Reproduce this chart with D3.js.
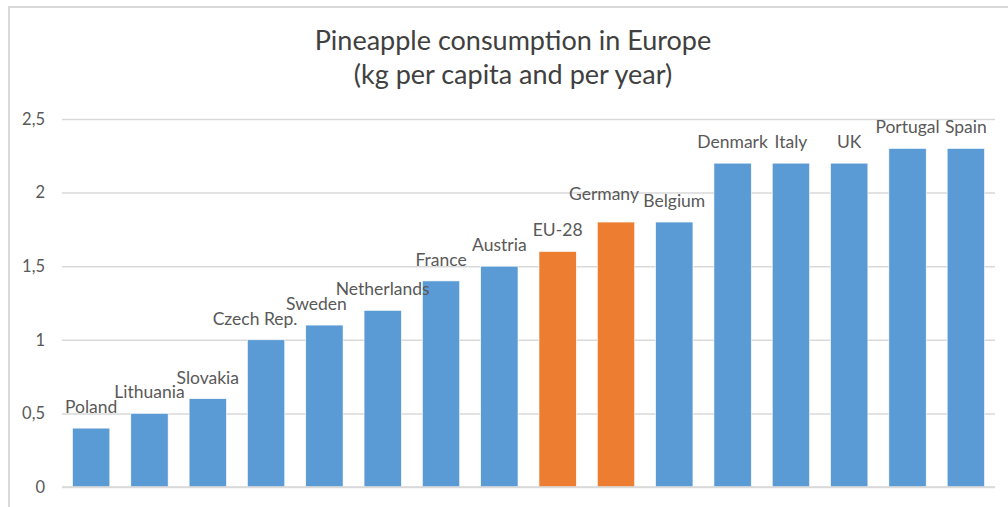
<!DOCTYPE html>
<html><head><meta charset="utf-8">
<script src="https://cdn.jsdelivr.net/npm/d3@7"></script>
<style>body{margin:0;background:#fff;} svg{display:block;font-family:Lato,"Open Sans",sans-serif;}</style>
</head><body>
<svg id="c" width="1008" height="507"></svg>
<script>
const categories = ["Poland","Lithuania","Slovakia","Czech Rep.","Sweden","Netherlands","France","Austria","EU-28","Germany","Belgium","Denmark","Italy","UK","Portugal","Spain"];
const values = [0.4,0.5,0.6,1.0,1.1,1.2,1.4,1.5,1.6,1.8,1.8,2.2,2.2,2.2,2.3,2.3];
const highlighted = ["EU-28","Germany"];
const yTicks = [0,0.5,1,1.5,2,2.5];
const titleLines = ["Pineapple consumption in Europe","(kg per capita and per year)"];

const svg = d3.select("#c");
svg.append("path").attr("d","M9,507 V7 H1008").attr("fill","none").attr("stroke","#d9d9d9").attr("stroke-width",2);

const x = d3.scaleBand().domain(categories).range([62,995]).paddingInner(0.36).paddingOuter(0.18);
const y = d3.scaleLinear().domain([0,2.5]).range([487,119]);

const fmt = d => String(d).replace(".", ",");
const yAxis = svg.append("g").attr("transform","translate(62,0)")
  .call(d3.axisLeft(y).tickValues(yTicks).tickSize(-933).tickFormat(fmt).tickPadding(17));
yAxis.select(".domain").remove();
yAxis.selectAll(".tick line").attr("stroke","#d9d9d9").attr("stroke-width",1.5);
yAxis.selectAll(".tick text").attr("fill","#595959").attr("font-size",16.5).attr("font-family","Lato");

svg.append("g").selectAll("rect").data(categories).join("rect")
  .attr("x", d => x(d)).attr("width", x.bandwidth())
  .attr("y", (d,i) => y(values[i])).attr("height", (d,i) => y(0) - y(values[i]))
  .attr("fill", d => highlighted.includes(d) ? "#ed7d31" : "#5b9bd5")
  .attr("stroke","#fff").attr("stroke-width",0.6);

svg.append("line").attr("x1",62).attr("x2",995).attr("y1",y(0)).attr("y2",y(0)).attr("stroke","#d9d9d9").attr("stroke-width",1.5);

// small label shifts to avoid overlaps, as in the original
const nudge = {"Czech Rep.":[-11,0],"Sweden":[-8,0],"Germany":[-12,-7]};
svg.append("g").selectAll("text").data(categories).join("text")
  .attr("x", d => x(d) + x.bandwidth()/2 + (nudge[d]?nudge[d][0]:0))
  .attr("y", (d,i) => y(values[i]) - 15 + (nudge[d]?nudge[d][1]:0))
  .attr("text-anchor","middle").attr("fill","#595959").attr("font-size",17.5)
  .text(d => d);

svg.append("g").selectAll("text").data(titleLines).join("text")
  .attr("x",513).attr("y",(d,i)=>50+i*34).attr("text-anchor","middle")
  .attr("fill","#404040").attr("font-size",27).text(d=>d);
</script>
</body></html>
